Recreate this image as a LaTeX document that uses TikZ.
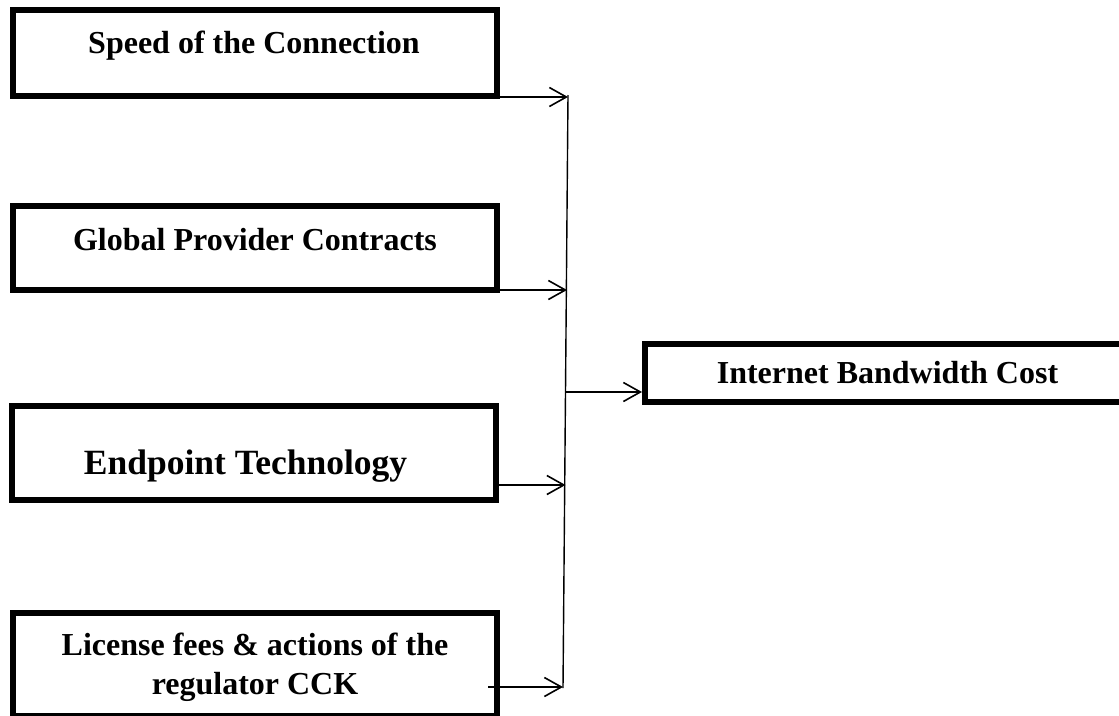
\documentclass[tikz,border=0pt]{standalone}
\usepackage{fontspec}
\setmainfont{Liberation Serif}
\usetikzlibrary{arrows.meta}

\begin{document}
\begin{tikzpicture}[x=1pt,y=-1pt,
  factor/.style={draw, line width=6pt, outer sep=3pt, inner sep=0pt,
                 minimum width=484pt},
  lbl/.style={font=\bfseries\fontsize{32}{39}\selectfont, inner sep=0pt,
              anchor=base, align=center},
  link/.style={line width=1.6pt, -{Straight Barb[length=17pt,width=19pt]}},
  trunk/.style={line width=1.4pt}]

\useasboundingbox (0,0) rectangle (1119,715);
\clip (0,0) rectangle (1119,715);

% factor boxes on the left
\node[factor, minimum height=86pt]   (speed)    at (255,53)     {};
\node[lbl] (speedtxt) at (254,53.3) {Speed of the Connection};

\node[factor, minimum height=84pt]   (global)   at (255,248)    {};
\node[lbl] (globaltxt) at (255,250) {Global Provider Contracts};

\node[factor, minimum height=93.5pt] (endpoint) at (254,452.75) {};
\node[lbl, font=\bfseries\fontsize{35.5}{42}\selectfont] (endpointtxt)
  at (245.5,474) {Endpoint Technology};

\node[factor, minimum height=103pt]  (license)  at (255,664.5)  {};
\node[lbl, anchor=north] (licensetxt) at (255,633)
  {License fees \& actions of the\\regulator CCK};

% resulting cost box on the right
\node[factor, minimum width=485pt, minimum height=58pt,
      font=\bfseries\fontsize{32}{39}\selectfont] (cost) at (887.5,373)
  {Internet Bandwidth Cost};

% collecting line
\coordinate (jtop) at (568,95);
\coordinate (jbot) at (563,688);
\coordinate (j1) at (568,97);
\coordinate (j2) at (567,290);
\coordinate (j3) at (565.5,485);
\coordinate (j4) at (563,687);
\coordinate (jm) at (565.8,392);
\coordinate (l4) at (488,687);

\draw[trunk] (jtop) -- (jbot);

\draw[link] (speed.east |- j1) -- (j1);
\draw[link] (global.east |- j2) -- (j2);
\draw[link] (endpoint.east |- j3) -- (j3);
\draw[link] (l4) -- (j4);
\draw[link] (jm) -- (cost.west |- jm);

\end{tikzpicture}
\end{document}
